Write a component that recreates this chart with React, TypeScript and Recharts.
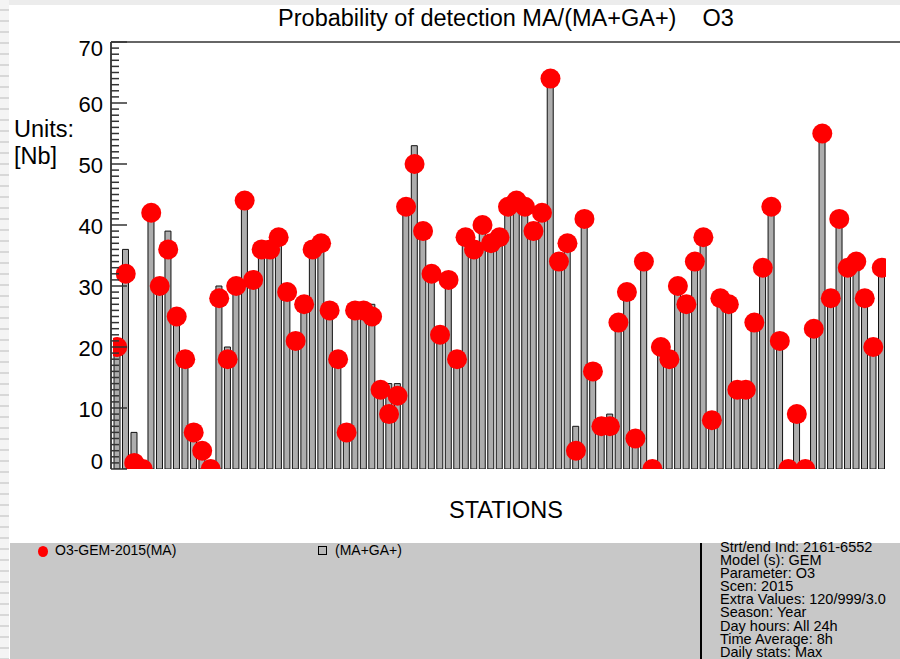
import React from "react";
import { ComposedChart, Bar, Line, XAxis, YAxis, ReferenceLine } from "recharts";

// station index 1..91 (no labels drawn on the x axis)
const STATIONS = [
  1, 2, 3, 4, 5, 6, 7, 8, 9, 10, 11, 12, 13, 14, 15, 16, 17, 18, 19, 20,
  21, 22, 23, 24, 25, 26, 27, 28, 29, 30, 31, 32, 33, 34, 35, 36, 37, 38, 39, 40,
  41, 42, 43, 44, 45, 46, 47, 48, 49, 50, 51, 52, 53, 54, 55, 56, 57, 58, 59, 60,
  61, 62, 63, 64, 65, 66, 67, 68, 69, 70, 71, 72, 73, 74, 75, 76, 77, 78, 79, 80,
  81, 82, 83, 84, 85, 86, 87, 88, 89, 90, 91,
];

// (MA+GA+) bars
const MA_GA = [
  20, 36, 6, 0, 42, 30, 39, 25, 18, 6, 3, 0, 30, 20, 30, 44, 31, 36, 36, 38,
  29, 21, 27, 36, 37, 26, 18, 6, 26, 26, 27, 13, 14, 14, 43, 53, 39, 32, 22, 31,
  18, 38, 36, 40, 37, 38, 43, 44, 43, 39, 42, 64, 34, 37, 7, 41, 16, 7, 9, 24,
  29, 5, 34, 0, 20, 18, 30, 27, 34, 38, 8, 28, 27, 13, 13, 24, 33, 43, 21, 0,
  9, 0, 23, 55, 28, 41, 33, 34, 28, 20, 33,
];

// O3-GEM-2015(MA) dots
const MA = [
  20, 32, 1, 0, 42, 30, 36, 25, 18, 6, 3, 0, 28, 18, 30, 44, 31, 36, 36, 38,
  29, 21, 27, 36, 37, 26, 18, 6, 26, 26, 25, 13, 9, 12, 43, 50, 39, 32, 22, 31,
  18, 38, 36, 40, 37, 38, 43, 44, 43, 39, 42, 64, 34, 37, 3, 41, 16, 7, 7, 24,
  29, 5, 34, 0, 20, 18, 30, 27, 34, 38, 8, 28, 27, 13, 13, 24, 33, 43, 21, 0,
  9, 0, 23, 55, 28, 41, 33, 34, 28, 20, 33,
];

const Y_TICKS = [
  0, 1, 2, 3, 4, 5, 6, 7, 8, 9, 10, 11, 12, 13, 14, 15, 16, 17, 18, 19, 20,
  21, 22, 23, 24, 25, 26, 27, 28, 29, 30, 31, 32, 33, 34, 35, 36, 37, 38, 39, 40,
  41, 42, 43, 44, 45, 46, 47, 48, 49, 50, 51, 52, 53, 54, 55, 56, 57, 58, 59, 60,
  61, 62, 63, 64, 65, 66, 67, 68, 69, 70,
];

const INFO = [
  "Strt/end Ind: 2161-6552",
  "Model (s): GEM",
  "Parameter: O3",
  "Scen: 2015",
  "Extra Values: 120/999/3.0",
  "Season: Year",
  "Day hours: All 24h",
  "Time Average: 8h",
  "Daily stats: Max",
];

const data = STATIONS.map((s, i) => ({ station: s, total: MA_GA[i], ma: MA[i] }));

const FONT = "'Liberation Sans', Arial, sans-serif";

function LeftTick(props: any) {
  const { x, y, payload } = props;
  const v = payload.value;
  const major = v % 10 === 0;
  let dy = 1;
  if (v === 70) dy = 6;
  if (v === 0) dy = -8;
  return (
    <g>
      <line x1={x} x2={x + (major ? 16 : 8)} y1={y} y2={y} stroke="#333" strokeWidth={1.5} />
      {major && (
        <text x={x - 8} y={y + dy} textAnchor="end" dominantBaseline="central" fontSize={22} fontFamily={FONT} fill="#000">
          {v}
        </text>
      )}
    </g>
  );
}

function RightTick(props: any) {
  const { x, y, payload } = props;
  const major = payload.value % 10 === 0;
  return <line x1={x} x2={x - (major ? 16 : 8)} y1={y} y2={y} stroke="#333" strokeWidth={1.5} />;
}

export default function App() {
  return (
    <div style={{ position: "absolute", left: 0, top: 0, width: 900, height: 659, background: "#fff", overflow: "hidden", fontFamily: FONT }}>
      <div style={{ position: "absolute", left: 0, top: 0, width: 900, height: 5, background: "#ececec" }} />
      <div
        style={{
          position: "absolute", left: 0, top: 0, width: 9, height: 659,
          background: "repeating-linear-gradient(to bottom, #f4f4f4 0px, #f4f4f4 9px, #d8d8d8 9px, #d8d8d8 11px)",
        }}
      />

      <ComposedChart width={900} height={659} data={data} margin={{ top: 42, right: 0, bottom: 190, left: 0 }}>
        <XAxis
          dataKey="station"
          height={0}
          tick={false}
          tickLine={false}
          axisLine={{ stroke: "#222", strokeWidth: 2 }}
          padding={{ left: 2, right: 14 }}
          allowDataOverflow
        />
        <YAxis
          yAxisId="left"
          width={111}
          domain={[0, 70]}
          ticks={Y_TICKS}
          interval={0}
          tickSize={0}
          tickMargin={0}
          tickLine={false}
          tick={<LeftTick />}
          axisLine={{ stroke: "#444", strokeWidth: 2 }}
          allowDataOverflow
        />
        <YAxis
          yAxisId="right"
          orientation="right"
          width={0}
          domain={[0, 70]}
          ticks={Y_TICKS}
          interval={0}
          tickSize={0}
          tickMargin={0}
          tickLine={false}
          tick={<RightTick />}
          axisLine={{ stroke: "#444", strokeWidth: 2 }}
        />
        <ReferenceLine yAxisId="left" y={70} stroke="#666" strokeWidth={2} />
        <Bar yAxisId="left" dataKey="total" barSize={6} fill="#adadad" stroke="#111" strokeWidth={1} isAnimationActive={false} />
        <Line
          yAxisId="left"
          dataKey="ma"
          stroke="none"
          dot={{ r: 10, fill: "#ff0000", stroke: "none" }}
          activeDot={false}
          isAnimationActive={false}
        />
      </ComposedChart>

      <div style={{ position: "absolute", left: 0, width: 1012, top: 5, textAlign: "center", fontSize: 23.5, whiteSpace: "pre", color: "#000" }}>
        {"Probability of detection MA/(MA+GA+)    O3"}
      </div>
      <div style={{ position: "absolute", left: 14, top: 116, fontSize: 23.5, lineHeight: "27px", color: "#000" }}>
        Units:
        <br />
        [Nb]
      </div>
      <div style={{ position: "absolute", left: 0, width: 1012, top: 497, textAlign: "center", fontSize: 23.5, color: "#000" }}>
        STATIONS
      </div>

      <div style={{ position: "absolute", left: 10, top: 543, width: 890, height: 116, background: "#c8c8c8" }}>
        <div style={{ position: "absolute", left: 28, top: 3, width: 10, height: 11, borderRadius: "50%", background: "#ff0000" }} />
        <div style={{ position: "absolute", left: 45, top: -1, fontSize: 14, color: "#000" }}>O3-GEM-2015(MA)</div>
        <div style={{ position: "absolute", left: 308, top: 3, width: 7, height: 7, border: "1px solid #000", background: "#b8b8b8" }} />
        <div style={{ position: "absolute", left: 325, top: -1, fontSize: 14, color: "#000" }}>(MA+GA+)</div>
        <div style={{ position: "absolute", left: 690, top: 0, width: 2, height: 116, background: "#000" }} />
        <div style={{ position: "absolute", left: 710, top: -2, fontSize: 14.5, lineHeight: "13.1px", color: "#000" }}>
          {INFO.map((t) => (
            <div key={t}>{t}</div>
          ))}
        </div>
      </div>
    </div>
  );
}
